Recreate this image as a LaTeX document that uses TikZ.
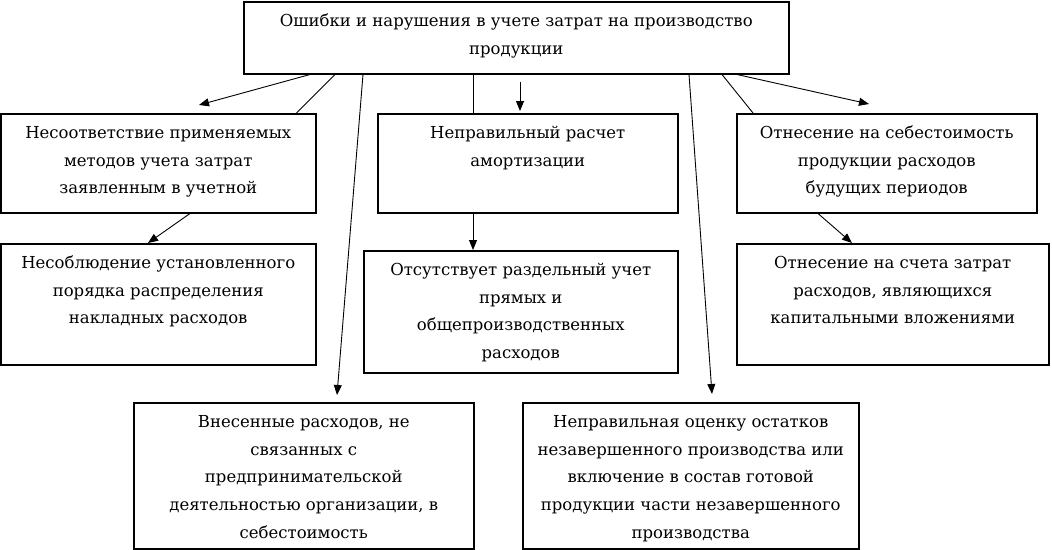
\documentclass[tikz,border=0pt]{standalone}
\usepackage{fontspec}
\setmainfont{DejaVu Serif}
\newfontfamily\rufont{DejaVu Serif}
\usetikzlibrary{calc,arrows.meta}
\newcommand{\boxcontent}[3]{\parbox[c][#2pt][t]{#1pt}{\centering\rule{0pt}{25pt}#3}}
\tikzset{
  blk/.style={draw, line width=1.5pt, inner sep=0pt, anchor=north west,
    font=\rufont\fontsize{16.5}{27.6}\selectfont},
  con/.style={line width=0.9pt},
  arr/.style={line width=0.9pt, -{Triangle[length=10pt,width=8pt]}}
}
\begin{document}
\begin{tikzpicture}[x=1pt,y=-1pt]
\useasboundingbox (0,0) rectangle (1052,549);
\node[blk] (top) at (243,1) {\boxcontent{545}{72}{Ошибки и нарушения в учете затрат на производство\\ продукции}};
\node[blk] (l1) at (0,113) {\boxcontent{315}{99}{Несоответствие применяемых\\ методов учета затрат\\ заявленным в учетной}};
\node[blk] (m1) at (377,113) {\boxcontent{300}{99}{Неправильный расчет\\ амортизации}};
\node[blk] (r1) at (736,113) {\boxcontent{300}{99}{Отнесение на себестоимость\\ продукции расходов\\ будущих периодов}};
\node[blk] (l2) at (0,243) {\boxcontent{315}{121}{Несоблюдение установленного\\ порядка распределения\\ накладных расходов}};
\node[blk] (m2) at (363,250) {\boxcontent{314}{122}{Отсутствует раздельный учет\\ прямых и\\ общепроизводственных\\ расходов}};
\node[blk] (r2) at (736,243) {\boxcontent{312}{121}{Отнесение на счета затрат\\ расходов, являющихся\\ капитальными вложениями}};
\node[blk] (b1) at (133,402) {\boxcontent{340}{146}{Внесенные расходов, не\\ связанных с\\ предпринимательской\\ деятельностью организации, в\\ себестоимость}};
\node[blk] (b2) at (522,402) {\boxcontent{336}{146}{Неправильная оценку остатков\\ незавершенного производства или\\ включение в состав готовой\\ продукции части незавершенного\\ производства}};
% connectors from top box
\draw[arr] ($(top.south west)+(67,0)$) -- ($(l1.north west)+(199,-8)$);
\draw[con] ($(top.south west)+(92,0)$) -- ($(l1.north east)+(-20,0)$);
\draw[arr] ($(top.south west)+(120,0)$) -- ($(b1.north west)+(204,-7)$);
\draw[con] ($(top.south west)+(230,0)$) -- ($(m1.north west)+(96,0)$);
\draw[arr] ($(top.south west)+(277,7)$) -- ($(m1.north west)+(143,-2)$);
\draw[arr] ($(top.south west)+(446,0)$) -- ($(b2.north west)+(190,-8)$);
\draw[con] ($(top.south west)+(479,0)$) -- ($(r1.north west)+(17,0)$);
\draw[arr] ($(top.south west)+(494,0)$) -- ($(r1.north west)+(133,-9)$);
% second level
\draw[arr] ($(l1.south west)+(190,0)$) -- ($(l2.north west)+(148,0)$);
\draw[arr] ($(m1.south west)+(96,0)$) -- ($(m2.north west)+(110,0)$);
\draw[arr] ($(r1.south west)+(82,0)$) -- ($(r2.north west)+(116,0)$);
\end{tikzpicture}
\end{document}
